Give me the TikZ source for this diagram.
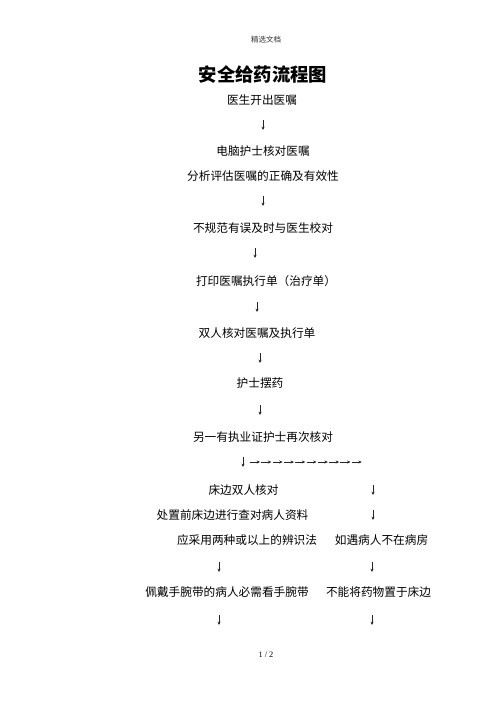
\documentclass[tikz,border=0pt]{standalone}
\usepackage{fontspec}
\newfontfamily\cjk{Noto Sans CJK SC}
\newfontfamily\numfont{Liberation Serif}
\usetikzlibrary{arrows.meta}
\tikzset{
  txt/.style={inner sep=0pt, font=\cjk\fontsize{14}{16}\selectfont, text=black},
  hdr/.style={inner sep=0pt, font=\cjk\fontsize{9}{11}\selectfont, text=black!80},
  ttl/.style={inner sep=0pt, font=\cjk\bfseries\fontsize{22}{26}\selectfont},
  arr/.style={line width=0.6pt, black!85, -{Stealth[length=4pt,width=3.6pt]}},
}
\begin{document}
\begin{tikzpicture}[x=1.2pt,y=1.2pt]
\useasboundingbox[fill=white] (0,0) rectangle (496,-702);
\node[hdr] (h) at (266,-40) {精选文档};
\node[ttl] (t) at (263,-75) {安全给药流程图};
\node[txt] (n1) at (262,-100) {医生开出医嘱};
\node[txt] (n2) at (263,-151) {电脑护士核对医嘱};
\node[txt] (n3) at (263,-176) {分析评估医嘱的正确及有效性};
\node[txt] (n4) at (263,-228) {不规范有误及时与医生校对};
\node[txt] (n5) at (266,-281) {打印医嘱执行单（治疗单）};
\node[txt] (n6) at (257,-333) {双人核对医嘱及执行单};
\node[txt] (n7) at (260,-383) {护士摆药};
\node[txt] (n8) at (263,-437) {另一有执业证护士再次核对};
\node[txt] (l1) at (243.5,-490) {床边双人核对};
\node[txt] (l2) at (232.5,-515) {处置前床边进行查对病人资料};
\node[txt] (l3) at (247,-540) {应采用两种或以上的辨识法};
\node[txt] (r3) at (381.5,-540) {如遇病人不在病房};
\node[txt] (l4) at (227,-592) {佩戴手腕带的病人必需看手腕带};
\node[txt] (r4) at (378.5,-592) {不能将药物置于床边};
\node[inner sep=0pt, font=\numfont\fontsize{10}{12}\selectfont] (pg) at (266,-655) {1 / 2};
% down arrows (glyph-like)
\foreach \nm/\x/\y in {a1/263/125, a2/263/201, a3/255/253, a4/257/307, a5/260/358, a6/260/410, a7/243/462, b1/373/490, b2/373/515, c1/219/567, c2/372/567, c3/219/620, c4/372/620}{
  \coordinate (\nm s) at (\x,-\y+5);
  \coordinate (\nm e) at (\x,-\y-5);
  \draw[arr] (\nm s) -- (\nm e);
}
% right arrow row
\foreach \i in {0,...,9}{
  \coordinate (rs\i) at (250+\i*11.3,-462);
  \coordinate (re\i) at (250+\i*11.3+10,-462);
  \draw[arr] (rs\i) -- (re\i);
}
\end{tikzpicture}
\end{document}
